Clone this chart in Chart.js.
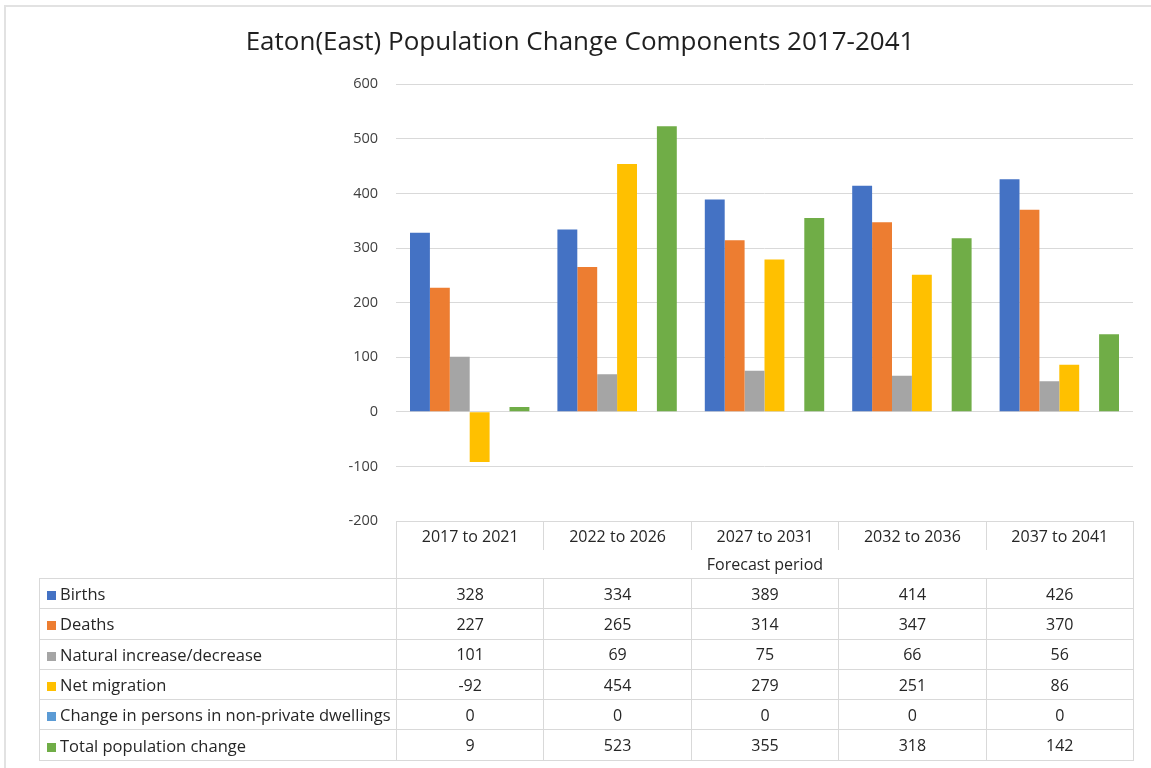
<!DOCTYPE html>
<html lang="en">
<head>
  <meta charset="UTF-8">
  <meta name="viewport" content="width=device-width, initial-scale=1.0">
  <title>Eaton(East) Population Change Components 2017-2041</title>
  <script src="https://cdn.jsdelivr.net/npm/chart.js"></script>
  <style>
    body {
      margin: 0;
      background: #fff;
      font-family: 'Open Sans', sans-serif;
      color: #333;
    }
    #wrap {
      position: relative;
      width: 1151px;
      height: 768px;
      overflow: hidden;
    }
    .frame {
      position: absolute;
      left: 4px;
      top: 5px;
      width: 1400px;
      height: 1000px;
      border-top: 2px solid #e2e2e2;
      border-left: 2px solid #e2e2e2;
    }
    #chartBox {
      position: absolute;
      left: 0;
      top: 0;
      width: 1151px;
      height: 768px;
    }
    #dataTable {
      position: absolute;
      border-collapse: collapse;
      table-layout: fixed;
      font-size: 16px;
      color: #262626;
    }
    #dataTable td {
      padding: 0;
      text-align: center;
      white-space: nowrap;
      border: 1px solid #d9d9d9;
    }
    #dataTable tr.head td { height: 28px; }
    #dataTable tr.head td.blank { border: none; }
    #dataTable tr.head td.period { border-bottom: none; }
    #dataTable tr.axis td.blank { border: none; }
    #dataTable tr.axis td.title { border-top: none; }
    #dataTable tr.row td { height: 29.3px; }
    #dataTable td.name {
      text-align: left;
      padding-left: 7px;
      font-size: 16.5px;
    }
    .swatch {
      display: inline-block;
      width: 9px;
      height: 9px;
      margin-right: 4px;
      vertical-align: 0px;
    }
  </style>
</head>
<body>
  <div id="wrap">
    <div class="frame"></div>
    <div id="chartBox"><canvas id="myChart"></canvas></div>
    <table id="dataTable"></table>
  </div>

  <script>
    const periods = ['2017 to 2021', '2022 to 2026', '2027 to 2031', '2032 to 2036', '2037 to 2041'];
    const births = [328, 334, 389, 414, 426];
    const deaths = [227, 265, 314, 347, 370];
    const naturalChange = [101, 69, 75, 66, 56];
    const netMigration = [-92, 454, 279, 251, 86];
    const nonPrivateChange = [0, 0, 0, 0, 0];
    const totalChange = [9, 523, 355, 318, 142];

    const seriesNames = ['Births', 'Deaths', 'Natural increase/decrease', 'Net migration',
      'Change in persons in non-private dwellings', 'Total population change'];
    const seriesValues = [births, deaths, naturalChange, netMigration, nonPrivateChange, totalChange];
    const seriesColors = ['#4472c4', '#ed7d31', '#a5a5a5', '#ffc000', '#5b9bd5', '#70ad47'];

    const yMin = -200, yMax = 600, yStep = 100;
    const axisTitle = 'Forecast period';
    const tableLeft = 39;

    const ctx = document.getElementById('myChart').getContext('2d');
    const chart = new Chart(ctx, {
      type: 'bar',
      data: {
        labels: periods,
        datasets: seriesNames.map((name, i) => ({
          label: name,
          data: seriesValues[i],
          backgroundColor: seriesColors[i],
          borderWidth: 0,
          categoryPercentage: 0.81,
          barPercentage: 1.0
        }))
      },
      options: {
        responsive: true,
        maintainAspectRatio: false,
        animation: false,
        layout: { padding: { left: 27, right: 18, top: 0, bottom: 247 } },
        plugins: {
          legend: { display: false },
          tooltip: { enabled: false },
          title: {
            display: true,
            text: 'Eaton(East) Population Change Components 2017-2041',
            color: '#1f1f1f',
            font: { family: 'Open Sans', size: 26, weight: 'normal', lineHeight: 1.2 },
            padding: { top: 27, bottom: 26 }
          }
        },
        scales: {
          x: { display: false },
          y: {
            min: yMin,
            max: yMax,
            afterFit: scale => { scale.width = 369; },
            border: { display: false },
            grid: { color: '#d9d9d9', lineWidth: 1, drawTicks: false },
            ticks: {
              stepSize: yStep,
              padding: 18,
              color: '#404040',
              font: { family: 'Open Sans', size: 14.5 }
            }
          }
        }
      }
    });

    // data table under the plot, columns lined up with the category scale
    function buildTable() {
      const x = chart.scales.x;
      const area = chart.chartArea;
      const colW = (x.right - x.left) / periods.length;
      const table = document.getElementById('dataTable');
      table.style.left = tableLeft + 'px';
      table.style.top = area.bottom + 'px';

      let html = '<colgroup><col style="width:' + (x.left - tableLeft) + 'px">';
      periods.forEach(() => { html += '<col style="width:' + colW + 'px">'; });
      html += '</colgroup>';

      html += '<tr class="head"><td class="blank"></td>';
      periods.forEach(p => { html += '<td class="period">' + p + '</td>'; });
      html += '</tr>';
      html += '<tr class="head axis"><td class="blank"></td><td class="title" colspan="' + periods.length + '">' + axisTitle + '</td></tr>';

      seriesNames.forEach((name, i) => {
        html += '<tr class="row"><td class="name"><span class="swatch" style="background:' + seriesColors[i] + '"></span>' + name + '</td>';
        seriesValues[i].forEach(v => { html += '<td>' + v + '</td>'; });
        html += '</tr>';
      });
      table.innerHTML = html;
    }

    buildTable();
  </script>
</body>
</html>
